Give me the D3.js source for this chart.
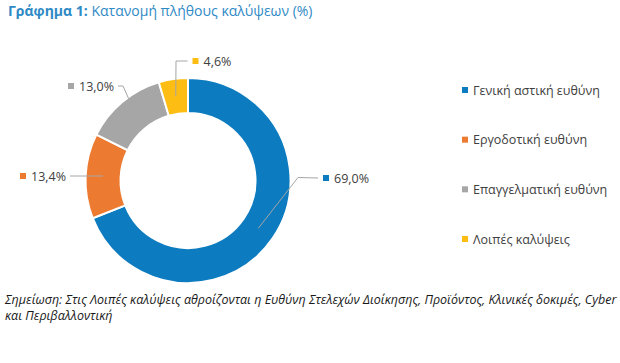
<!DOCTYPE html>
<html>
<head>
<meta charset="utf-8">
<script src="https://cdn.jsdelivr.net/npm/d3@7"></script>
<style>
  body { margin: 0; background: #fff; }
  svg { display: block; font-family: "Open Sans", sans-serif; }
</style>
</head>
<body>
<svg id="chart"></svg>
<script>
// data
const categories = ["Γενική αστική ευθύνη", "Εργοδοτική ευθύνη", "Επαγγελματική ευθύνη", "Λοιπές καλύψεις"];
const shares = [69.0, 13.4, 13.0, 4.6];
const sliceColors = ["#0c7bbf", "#ec7a30", "#a6a6a6", "#fdbd12"];
const titleBold = "Γράφημα 1:";
const titleRest = " Κατανομή πλήθους καλύψεων (%)";
const noteLines = [
  "Σημείωση: Στις Λοιπές καλύψεις αθροίζονται η Ευθύνη Στελεχών Διοίκησης, Προϊόντος, Κλινικές δοκιμές, Cyber",
  "και Περιβαλλοντική"
];

const width = 620, height = 363;
const cx = 188, cy = 180.5;
const outerR = 102.5, innerR = 67.5;

// label placement relative to centre (marker position), leader bend point,
// leader end radius and angle nudge (degrees)
const labelLayout = [
  { dx: 138, dy: -2.5, bend: [110, -3], endR: 85, nudge: 0 },
  { dx: -165, dy: -4.5, bend: null, endR: 85, nudge: 0 },
  { dx: -117, dy: -94.5, bend: [-65, -94.5], endR: 101, nudge: 4 },
  { dx: 7.5, dy: -119.5, bend: [-12, -119.5], endR: 85, nudge: 0 }
];

const fmt = v => d3.format(".1f")(v).replace(".", ",") + "%";

const svg = d3.select("#chart").attr("width", width).attr("height", height);

// title
const title = svg.append("text").attr("x", 8).attr("y", 16)
  .attr("font-size", 14).attr("fill", "#2f8ac6");
title.append("tspan").attr("font-weight", "bold").text(titleBold);
title.append("tspan").text(titleRest);

const pie = d3.pie().sort(null).value(d => d);
const arcs = pie(shares);
const arc = d3.arc().innerRadius(innerR).outerRadius(outerR);

const g = svg.append("g").attr("transform", `translate(${cx},${cy})`);

g.selectAll("path.slice")
  .data(arcs)
  .join("path")
  .attr("class", "slice")
  .attr("d", arc)
  .attr("fill", (d, i) => sliceColors[i])
  .attr("stroke", "#fff")
  .attr("stroke-width", 2);

// data labels
const lbl = g.selectAll("g.lbl")
  .data(arcs)
  .join("g")
  .attr("class", "lbl")
  .attr("transform", (d, i) => `translate(${labelLayout[i].dx},${labelLayout[i].dy})`);

lbl.append("rect")
  .attr("x", -3).attr("y", -3).attr("width", 6).attr("height", 6)
  .attr("fill", (d, i) => sliceColors[i]);

lbl.append("text")
  .attr("x", 8).attr("y", 4.5)
  .attr("font-size", 12.5)
  .attr("fill", "#404040")
  .text(d => fmt(d.data));

// leader lines
const labelWidths = lbl.select("text").nodes().map(n => n.getComputedTextLength());
g.selectAll("polyline.leader")
  .data(arcs)
  .join("polyline")
  .attr("class", "leader")
  .attr("fill", "none")
  .attr("stroke", "#a6a6a6")
  .attr("stroke-width", 1)
  .attr("points", (d, i) => {
    const L = labelLayout[i];
    const a = (d.startAngle + d.endAngle) / 2 + L.nudge * Math.PI / 180;
    const end = [Math.sin(a) * L.endR, -Math.cos(a) * L.endR];
    const labelLeft = L.dx < end[0] && L.dx + 8 + labelWidths[i] < end[0];
    const start = labelLeft ? [L.dx + 8 + labelWidths[i] + 4, L.dy] : [L.dx - 8, L.dy];
    const pts = L.bend ? [start, L.bend, end] : [start, [end[0], L.dy]];
    return pts.map(p => p.join(",")).join(" ");
  });

// legend
const legendY = d3.scalePoint().domain(categories).range([90, 239]);
const legend = svg.append("g").selectAll("g")
  .data(categories)
  .join("g")
  .attr("transform", d => `translate(465,${legendY(d)})`);

legend.append("rect")
  .attr("x", -3).attr("y", -3).attr("width", 6).attr("height", 6)
  .attr("fill", (d, i) => sliceColors[i]);

legend.append("text")
  .attr("x", 8).attr("y", 4.5)
  .attr("font-size", 12.5)
  .attr("fill", "#404040")
  .text(d => d);

// note
svg.append("g").selectAll("text")
  .data(noteLines)
  .join("text")
  .attr("x", 5)
  .attr("y", (d, i) => 304 + i * 16)
  .attr("font-size", 12.5)
  .attr("font-style", "italic")
  .attr("fill", "#1a1a1a")
  .text(d => d);
</script>
</body>
</html>
